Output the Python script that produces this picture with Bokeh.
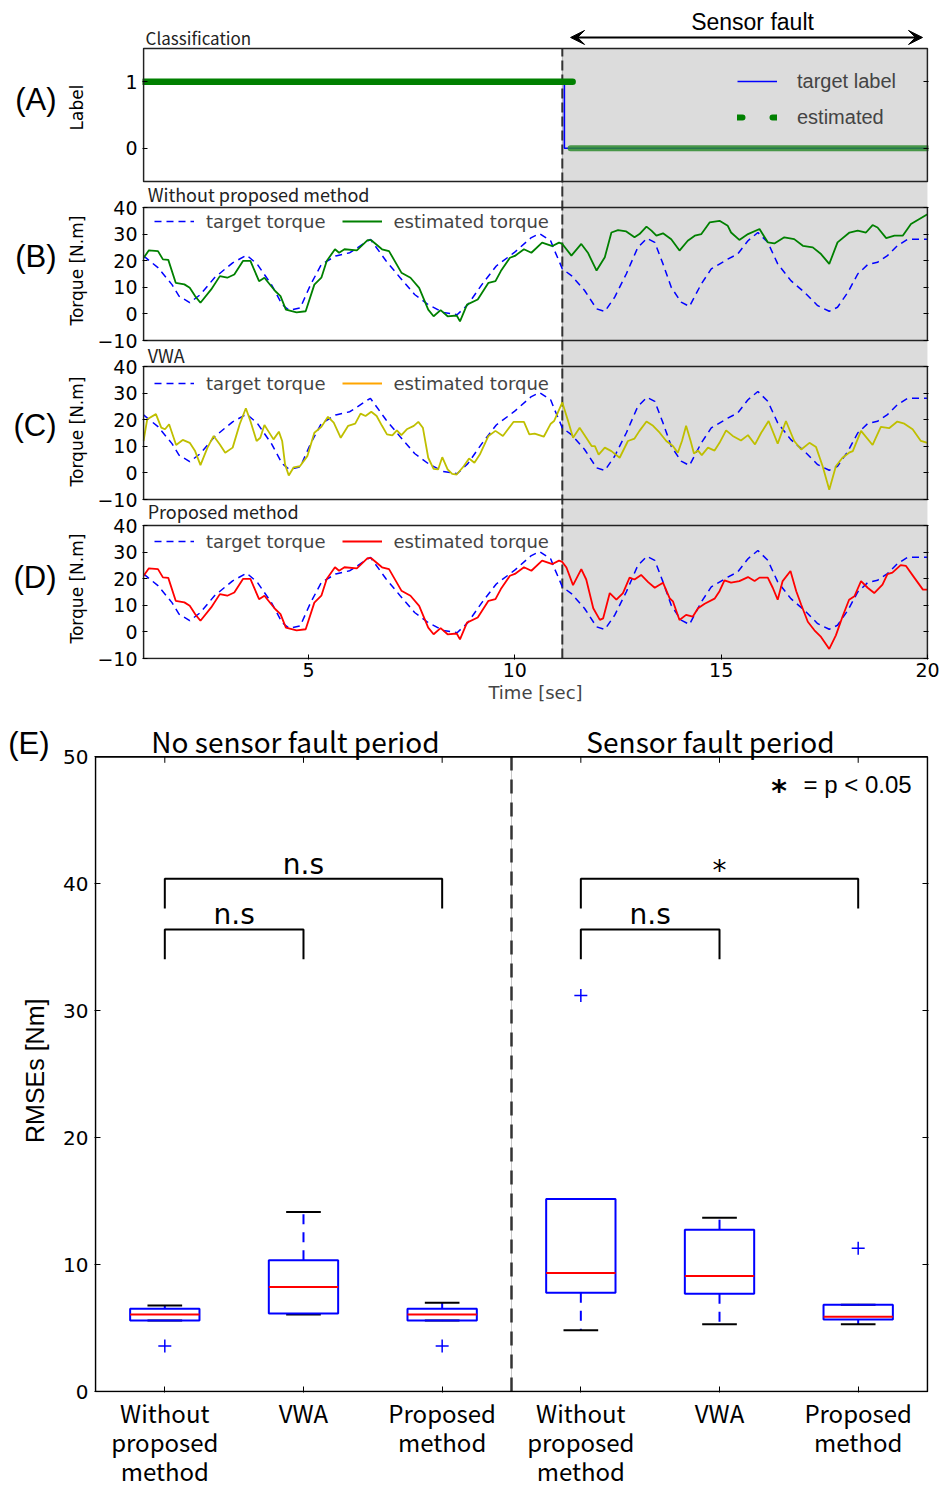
import numpy as np
from bokeh.plotting import figure
from bokeh.layouts import column, row
from bokeh.models import (Range1d, LinearAxis, FixedTicker, Legend, LegendItem,
                          Arrow, VeeHead)
from bokeh.core.properties import value
from bokeh.embed import file_html
from bokeh.resources import INLINE

# ---------------- data ----------------
t_start, t_end = 1.0, 20.0
fault_start = 11.15

# (A) classification
label_t = [1.0, 11.2, 11.2, 20.0]
label_target = [1, 1, 0, 0]
est_on_t = [1.0, 11.4]
est_on_v = [1, 1]
est_off_t = [11.35, 20.0]
est_off_v = [0, 0]

# target torque (same in B, C, D)
target_t = [1.0, 1.35, 1.69, 1.86, 2.12, 2.38, 2.72, 3.16, 3.5, 3.76, 4.1, 4.36, 4.53, 4.8,
            5.05, 5.31, 5.66, 6.0, 6.43, 6.5, 6.88, 7.22, 7.57, 7.9, 8.25, 8.6, 8.86, 9.2,
            9.55, 9.98, 10.4, 10.6, 10.87, 10.97, 11.07, 11.15, 11.37, 11.69, 11.98, 12.18,
            12.42, 12.7, 12.98, 13.2, 13.39, 13.59, 13.79, 14.03, 14.23, 14.52, 14.76, 15.16,
            15.4, 15.65, 15.89, 16.13, 16.37, 16.69, 17.02, 17.34, 17.62, 17.82, 18.07, 18.31,
            18.55, 18.79, 19.03, 19.27, 19.52, 20.0]
target_v = [21.8, 17.4, 11.0, 6.7, 4.2, 7.3, 13.6, 19.2, 22.1, 18.6, 11.0, 3.5, 1.3, 2.3,
            11.0, 18.6, 21.8, 23.0, 27.4, 28.0, 19.9, 13.6, 7.3, 3.5, 0.6, -0.3, 3.5, 11.0,
            18.0, 23.0, 28.7, 30.2, 27.4, 23.5, 19.9, 16.9, 14.4, 8.8, 1.9, 0.9,
            6.3, 15.0, 25.0, 28.4, 26.9, 18.8, 10.0, 4.4, 2.8, 11.3, 16.9, 20.6,
            22.5, 27.5, 30.6, 26.9, 18.8, 12.5, 8.1, 3.1, 1.0, 2.5, 8.1, 15.0,
            18.5, 19.4, 21.9, 25.6, 28.1, 28.1]

# estimated torque before the fault (identical for "without" and "proposed")
pre_t = [1.0, 1.13, 1.35, 1.47, 1.6, 1.78, 1.99, 2.12, 2.25, 2.38, 2.64, 2.85, 3.03, 3.2,
         3.41, 3.59, 3.8, 3.93, 4.19, 4.32, 4.45, 4.71, 4.93, 5.14, 5.31, 5.44, 5.64, 5.74,
         5.87, 6.17, 6.43, 6.52, 6.78, 6.95, 7.25, 7.47, 7.68, 7.9, 8.03, 8.2, 8.37, 8.59,
         8.67, 8.84, 9.1, 9.36, 9.53, 9.66, 9.88, 10.0, 10.22, 10.4, 10.66, 10.91, 11.07, 11.15]
pre_v = [21.0, 23.9, 23.6, 20.5, 20.3, 11.7, 11.1, 9.8, 6.7, 4.2, 9.2, 14.2, 13.6, 14.8,
         19.9, 19.9, 12.3, 13.6, 8.6, 6.7, 1.6, 0.6, 1.0, 11.0, 13.6, 19.9, 24.3, 23.0,
         24.3, 23.9, 27.7, 27.7, 24.3, 23.6, 15.5, 13.6, 9.8, 1.6, -0.9, 1.4, -0.9, -0.6,
         -2.8, 3.5, 5.4, 11.7, 12.3, 16.1, 21.1, 21.8, 24.3, 23.0, 26.8, 25.5, 26.8, 26.3]

# (B) without proposed method, after the fault
wo_post_t = [11.37, 11.61, 11.77, 11.98, 12.18, 12.34, 12.5, 12.7, 12.9, 13.02, 13.19, 13.31,
             13.43, 13.59, 13.79, 13.99, 14.19, 14.36, 14.52, 14.72, 14.96, 15.16, 15.24,
             15.44, 15.65, 15.93, 16.13, 16.29, 16.53, 16.77, 16.98, 17.22, 17.42, 17.62,
             17.82, 18.11, 18.31, 18.51, 18.67, 18.79, 19.0, 19.2, 19.4, 19.6, 20.0]
wo_post_v = [21.9, 26.3, 23.0, 16.3, 21.3, 30.6, 31.5, 31.0, 28.8, 30.0, 32.8, 31.3,
             29.4, 30.3, 28.1, 23.8, 27.5, 29.4, 30.0, 34.4, 35.0, 33.1, 30.6,
             27.8, 30.0, 31.9, 26.9, 26.5, 28.8, 28.1, 25.6, 25.0, 22.5, 18.8,
             26.9, 30.6, 31.3, 30.6, 33.4, 32.5, 28.5, 29.4, 29.4, 33.8, 37.5]

# (D) proposed method, after the fault
pr_post_t = [11.25, 11.41, 11.61, 11.73, 11.9, 12.06, 12.14, 12.3, 12.46, 12.62, 12.78, 12.9,
             13.06, 13.23, 13.39, 13.59, 13.75, 13.83, 13.99, 14.15, 14.31, 14.44, 14.6, 14.84,
             14.96, 15.08, 15.24, 15.44, 15.65, 15.81, 15.93, 16.13, 16.25, 16.37, 16.49, 16.68,
             16.82, 16.94, 17.1, 17.26, 17.42, 17.62, 17.78, 17.94, 18.1, 18.23, 18.39, 18.55,
             18.71, 18.91, 19.03, 19.15, 19.35, 19.48, 19.68, 19.89, 20.0]
pr_post_v = [24.2, 17.6, 23.6, 19.7, 8.9, 4.5, 5.1, 14.6, 12.1, 14.6, 20.4, 19.7,
             21.4, 18.7, 16.6, 18.5, 12.7, 11.5, 4.5, 6.4, 5.7, 8.9, 10.6, 12.5,
             15.3, 19.4, 18.5, 19.1, 20.6, 19.1, 20.4, 20.4, 16.6, 12.1, 19.1, 22.9,
             15.3, 10.2, 3.8, 0.6, -1.9, -6.4, -1.3, 5.7, 12.1, 13.4, 19.1, 16.6,
             14.6, 17.8, 21.7, 22.3, 25.1, 24.8, 20.4, 15.9, 15.9]

# (C) VWA estimated torque
vwa_t = [1.0, 1.09, 1.3, 1.43, 1.52, 1.62, 1.79, 1.95, 2.12, 2.25,
         2.38, 2.55, 2.7, 2.85, 2.98, 3.16, 3.33, 3.48, 3.59, 3.74,
         3.83, 3.93, 4.02, 4.15, 4.28, 4.36, 4.43, 4.52, 4.64, 4.79,
         4.97, 5.14, 5.31, 5.47, 5.61, 5.78, 5.96, 6.13, 6.26, 6.38,
         6.52, 6.65, 6.78, 6.9, 7.03, 7.14, 7.25, 7.38, 7.55, 7.66,
         7.77, 7.9, 8.03, 8.14, 8.24, 8.37, 8.48, 8.59, 8.76, 8.89,
         9.02, 9.15, 9.36, 9.53, 9.71, 9.97, 10.22, 10.35, 10.48, 10.7,
         10.87, 10.95, 11.15, 11.29, 11.41, 11.57, 11.73, 11.86, 11.94, 12.03,
         12.18, 12.34, 12.54, 12.74, 12.9, 13.02, 13.19, 13.35, 13.51, 13.67,
         13.83, 13.95, 14.05, 14.15, 14.26, 14.34, 14.44, 14.53, 14.68, 14.84,
         14.96, 15.12, 15.28, 15.48, 15.65, 15.82, 15.97, 16.15, 16.37, 16.57,
         16.77, 16.94, 17.14, 17.3, 17.46, 17.62, 17.78, 17.94, 18.1, 18.19,
         18.39, 18.67, 18.87, 19.07, 19.27, 19.44, 19.64, 19.84, 20.0]
vwa_v = [12.0, 20.2, 22.1, 17.0, 16.4, 18.3, 10.5, 12.4, 11.3, 8.2,
         2.9, 9.5, 13.9, 10.7, 7.6, 9.5, 18.3, 24.3, 19.5, 12.0,
         13.2, 18.0, 15.8, 12.6, 15.5, 12.0, 3.2, -1.0, 2.1, 2.5,
         6.3, 15.1, 17.3, 21.1, 18.9, 13.2, 17.7, 18.5, 22.3, 21.4,
         23.0, 21.4, 17.7, 14.5, 14.1, 16.0, 14.2, 16.4, 17.7, 19.2,
         17.0, 5.7, 1.5, 1.3, 5.9, 1.3, -0.4, -0.6, 2.5, 5.4,
         3.8, 6.9, 13.9, 15.8, 13.9, 19.2, 19.2, 14.5, 14.8, 13.6,
         18.5, 19.5, 26.5, 19.5, 13.2, 17.0, 13.2, 10.1, 10.1, 6.9,
         9.5, 8.2, 5.7, 12.0, 12.9, 15.8, 19.3, 17.7, 15.1, 12.0,
         10.1, 7.6, 12.0, 17.7, 12.0, 7.3, 8.4, 6.7, 9.5, 8.4,
         11.3, 16.0, 13.9, 12.2, 14.2, 10.7, 15.1, 19.5, 11.0, 19.5,
         12.0, 8.8, 11.3, 9.7, 2.5, -6.3, 2.5, 5.7, 7.6, 8.2,
         15.8, 10.5, 17.3, 16.8, 19.3, 18.5, 16.4, 12.0, 11.3]

without_t = pre_t + wo_post_t
without_v = pre_v + wo_post_v
proposed_t = pre_t + pr_post_t
proposed_v = pre_v + pr_post_v

# y ticks of panels A-D
panel_ticks = {"A": [0, 1], "B": [-10, 0, 10, 20, 30, 40],
               "C": [-10, 0, 10, 20, 30, 40], "D": [-10, 0, 10, 20, 30, 40]}
x_ticks = [5, 10, 15, 20]

# (E) RMSE box plots
box_pos = [1, 2, 3, 4, 5, 6]
box_labels = ["Without\nproposed\nmethod", "VWA", "Proposed\nmethod",
              "Without\nproposed\nmethod", "VWA", "Proposed\nmethod"]
box_q1 = [5.6, 6.14, 5.6, 7.78, 7.7, 5.68]
box_med = [6.07, 8.24, 6.07, 9.33, 9.1, 5.9]
box_q3 = [6.53, 10.34, 6.53, 15.16, 12.75, 6.84]
whisk_lo = [5.6, 6.07, 5.6, 4.82, 5.29, 5.29]
whisk_hi = [6.77, 14.15, 7.0, 15.16, 13.7, 6.84]
outlier_x = [1, 3, 4, 6]
outlier_y = [3.58, 3.58, 31.2, 11.28]
e_ticks = [0, 10, 20, 30, 40, 50]
br_left = [1, 1, 4, 4]
br_right = [3, 2, 6, 5]
br_top = [40.4, 36.4, 40.4, 36.4]
br_text = ["n.s", "n.s", "*", "n.s"]
br_text_y = [41.5, 37.55, 41.05, 37.55]
br_drop = 2.35

# ---------------- layout geometry / styling ----------------
W = 946
TICK_FONT = "DejaVu Sans"
CJK = "Noto Sans CJK JP"
HELV = "Liberation Sans"
GRAY = "#dcdcdc"
NAN2 = [np.nan, np.nan]

FRAME_H = 659          # frame height of the top (A-D) figure
PANELS = {             # pixel box of each panel inside that frame, and its value span
    "A": dict(top=48, bot=181, vmin=-0.5, vmax=1.5),
    "B": dict(top=207, bot=340, vmin=-10, vmax=40),
    "C": dict(top=366, bot=499, vmin=-10, vmax=40),
    "D": dict(top=525, bot=658, vmin=-10, vmax=40),
}


def pscale(k):
    g = PANELS[k]
    return (g["bot"] - g["top"]) / (g["vmax"] - g["vmin"])


def prange(k):
    g = PANELS[k]
    s = pscale(k)
    return Range1d(g["vmin"] - (FRAME_H - g["bot"]) / s, g["vmax"] + g["top"] / s)


def ypx(k, v):
    g = PANELS[k]
    return round(FRAME_H - (g["top"] + (g["vmax"] - v) * pscale(k)), 3)


def mk_axis(ticks, font=TICK_FONT, size="19px", tick_len=5, standoff=5, overrides=None):
    ax = LinearAxis(ticker=FixedTicker(ticks=ticks), axis_line_color=None,
                    major_tick_in=tick_len, major_tick_out=0, minor_tick_line_color=None,
                    major_tick_line_color="black", major_tick_line_width=1,
                    major_label_standoff=standoff,
                    major_label_text_font=font, major_label_text_font_size=size,
                    major_label_text_color="black")
    if overrides:
        ax.major_label_overrides = overrides
    return ax


def tick_axis(ticks, tick_len=5):
    return LinearAxis(ticker=FixedTicker(ticks=ticks), axis_line_color=None,
                      major_tick_in=tick_len, major_tick_out=0, minor_tick_line_color=None,
                      major_tick_line_color="black", major_tick_line_width=1,
                      major_label_standoff=0, major_label_text_font_size="0px",
                      major_label_text_color=None)


def label_axis(ticks, texts, font, size, standoff, vertical=False):
    ax = LinearAxis(ticker=FixedTicker(ticks=ticks), axis_line_color=None,
                    major_tick_line_color=None, minor_tick_line_color=None,
                    major_tick_in=0, major_tick_out=0,
                    major_label_overrides=dict(zip(ticks, texts)),
                    major_label_standoff=standoff,
                    major_label_text_font=font, major_label_text_font_size=size,
                    major_label_text_color="black")
    if vertical:
        ax.major_label_orientation = "vertical"
    return ax


def fmt(v):
    return "\u2212" + str(-v) if v < 0 else str(v)


# ---------------- top figure: panels A-D ----------------
pT = figure(width=W, height=711, x_range=Range1d(0.975, 20.025), y_range=Range1d(0, FRAME_H),
            x_axis_location=None, y_axis_location=None, output_backend="svg",
            toolbar_location=None, min_border_left=142, min_border_right=18,
            min_border_top=0, min_border_bottom=52)
pT.extra_y_ranges = {k: prange(k) for k in PANELS}
pT.grid.visible = False
pT.outline_line_color = None
pT.background_fill_color = "white"
pT.border_fill_color = "white"

# fault shading and line across all four panels
g_bot, g_top = ypx("D", -10), ypx("A", 1.5)
pT.quad(left=[fault_start], right=[t_end], bottom=[g_bot], top=[g_top],
        fill_color=GRAY, line_color=None)
pT.segment(x0=[fault_start], y0=[g_bot], x1=[fault_start], y1=[g_top],
           line_color="#b0b0b0", line_width=1)
pT.segment(x0=[fault_start], y0=[g_bot], x1=[fault_start], y1=[g_top],
           line_color="#333333", line_width=2, line_dash="10 4")

# axes
tick_pos, tick_lab = [], {}
for k in PANELS:
    for v in panel_ticks[k]:
        pos = ypx(k, v)
        tick_pos.append(pos)
        tick_lab[pos] = fmt(v)
pT.add_layout(mk_axis(tick_pos, overrides=tick_lab), "left")
pT.add_layout(label_axis([ypx("A", 0.613), ypx("B", 16.3), ypx("C", 15.56), ypx("D", 16.3)],
                         ["Label", "Torque [N.m]", "Torque [N.m]", "Torque [N.m]"],
                         TICK_FONT, "17px", 7, vertical=True), "left")
pT.add_layout(label_axis([ypx("A", 0.733), ypx("B", 21.58), ypx("C", 17.82), ypx("D", 20.45)],
                         ["(A)", "(B)", "(C)", "(D)"], HELV, "31px", 8), "left")
pT.add_layout(tick_axis(tick_pos), "right")
xa = mk_axis(x_ticks, standoff=3)
xa.axis_label = "Time [sec]"
xa.axis_label_text_font = TICK_FONT
xa.axis_label_text_font_size = "18px"
xa.axis_label_text_font_style = "normal"
xa.axis_label_standoff = 2
pT.add_layout(xa, "below")

# panel A
rA_t = pT.line(label_t, label_target, color="blue", line_width=1.6, y_range_name="A")
pT.line(est_off_t, est_off_v, color="#2e8b2e", line_width=6, line_cap="round", alpha=0.85,
        y_range_name="A")
pT.line(est_on_t, est_on_v, color="#008000", line_width=6.5, line_cap="round",
        y_range_name="A")
rA_dots = pT.line(x=NAN2, y=NAN2, color="#008000", line_width=6, line_dash="5 30",
                  line_cap="round", y_range_name="A")
pT.add_layout(Legend(items=[LegendItem(label="target label", renderers=[rA_t]),
                            LegendItem(label="estimated", renderers=[rA_dots])],
                     orientation="vertical", location=(595, 530),
                     background_fill_alpha=0, border_line_color=None,
                     label_text_font=HELV, label_text_font_size="20px",
                     glyph_width=40, glyph_height=24, label_height=24, label_standoff=20,
                     spacing=12, padding=0, margin=0))
pT.text(x=[1.05], y=[1.658], text=["Classification"], text_font=value(CJK),
        text_font_size="17px", text_baseline="middle", text_color="#222222", y_range_name="A")
pT.text(x=[15.76], y=[1.891], text=["Sensor fault"], text_font=value(HELV),
        text_font_size="23px", text_align="center", text_baseline="middle", y_range_name="A")
pT.add_layout(Arrow(x_start=11.35, y_start=1.666, x_end=19.88, y_end=1.666, line_width=2,
                    y_range_name="A",
                    start=VeeHead(size=14, fill_color="black", line_color="black"),
                    end=VeeHead(size=14, fill_color="black", line_color="black")))

# panels B-D
specs = [("B", "Without proposed method", 45.19, without_t, without_v, "#008000", None, 427),
         ("C", "VWA", 44.44, vwa_t, vwa_v, "#bfbf00", "#ffa500", 265),
         ("D", "Proposed method", 45.56, proposed_t, proposed_v, "#ff0000", None, 107)]
for k, title, title_y, est_t, est_v, color, legend_color, legend_y in specs:
    rt = pT.line(target_t, target_v, color="blue", line_width=1.5, line_dash="7 5",
                 y_range_name=k)
    re = pT.line(est_t, est_v, color=color, line_width=1.8, y_range_name=k)
    rl = re if legend_color is None else pT.line(x=NAN2, y=NAN2, color=legend_color,
                                                 line_width=2, y_range_name=k)
    pT.add_layout(Legend(items=[LegendItem(label="target torque", renderers=[rt]),
                                LegendItem(label="estimated torque", renderers=[rl])],
                         orientation="horizontal", location=(12, legend_y),
                         background_fill_alpha=0, border_line_color=None,
                         label_text_font=TICK_FONT, label_text_font_size="18px",
                         glyph_width=40, glyph_height=22, label_height=22, label_standoff=12,
                         spacing=16, padding=0, margin=0))
    pT.text(x=[1.1], y=[title_y], text=[title], text_font=value(CJK), text_font_size="18px",
            text_baseline="middle", text_color="#222222", y_range_name=k)

# panel frames
for k, g in PANELS.items():
    pT.quad(left=[t_start], right=[t_end], bottom=[g["vmin"]], top=[g["vmax"]],
            fill_alpha=0, line_color="#222222", line_width=1.6, y_range_name=k)

# ---------------- panel E ----------------
E_SCALE = 643 / 50
pE = figure(width=W, height=779, x_range=Range1d(0.493, 6.507),
            y_range=Range1d(-1 / E_SCALE, 50 + 46 / E_SCALE),
            x_axis_location=None, y_axis_location=None, output_backend="svg",
            toolbar_location=None, min_border_left=94, min_border_right=18,
            min_border_top=0, min_border_bottom=89)
pE.grid.visible = False
pE.outline_line_color = None
pE.background_fill_color = "white"
pE.border_fill_color = "white"

pE.add_layout(mk_axis(e_ticks, size="20px", tick_len=6, standoff=6), "left")
pE.add_layout(label_axis([25.27], ["RMSEs [Nm]"], HELV, "25px", 11, vertical=True), "left")
pE.add_layout(label_axis([51.09], ["(E)"], HELV, "31px", -31), "left")
pE.add_layout(tick_axis(e_ticks[1:-1], tick_len=6), "right")
bx = mk_axis(box_pos, font=CJK, size="24px", tick_len=6, standoff=2,
             overrides={k: v for k, v in zip(box_pos, box_labels)})
bx.major_label_text_line_height = 0.83
pE.add_layout(bx, "below")

bp = np.array(box_pos, dtype=float)
# top tick marks on the box's top edge
pE.segment(x0=bp, y0=[50] * 6, x1=bp, y1=[50 - 6 / E_SCALE] * 6, line_color="black",
           line_width=1)
# divider between the two periods
pE.segment(x0=[3.5], y0=[0], x1=[3.5], y1=[50], line_color="#c8c8c8", line_width=1)
pE.segment(x0=[3.5], y0=[0], x1=[3.5], y1=[50], line_color="#333333", line_width=2.5,
           line_dash="14 9")

pE.segment(x0=bp, y0=box_q3, x1=bp, y1=whisk_hi, line_color="blue", line_width=2,
           line_dash="10 8")
pE.segment(x0=bp, y0=box_q1, x1=bp, y1=whisk_lo, line_color="blue", line_width=2,
           line_dash="10 8")
pE.segment(x0=bp - 0.125, y0=whisk_hi, x1=bp + 0.125, y1=whisk_hi, line_color="black",
           line_width=2)
pE.segment(x0=bp - 0.125, y0=whisk_lo, x1=bp + 0.125, y1=whisk_lo, line_color="black",
           line_width=2)
pE.quad(left=bp - 0.25, right=bp + 0.25, bottom=box_q1, top=box_q3, fill_alpha=0,
        line_color="blue", line_width=2)
pE.segment(x0=bp - 0.25, y0=box_med, x1=bp + 0.25, y1=box_med, line_color="red",
           line_width=2)
pE.scatter(outlier_x, outlier_y, marker="cross", size=13, line_color="blue", line_width=1.5)

bl = np.array(br_left, dtype=float)
brr = np.array(br_right, dtype=float)
bt = np.array(br_top, dtype=float)
pE.multi_line(xs=[[a, a, b, b] for a, b in zip(bl, brr)],
              ys=[[t - br_drop, t, t, t - br_drop] for t in bt],
              line_color="black", line_width=2)
pE.text(x=(bl + brr) / 2, y=br_text_y, text=br_text, text_font=value(TICK_FONT),
        text_font_size="28px", text_align="center", text_baseline="middle")
pE.text(x=[5.43], y=[47.36], text=["*"], text_font=value(TICK_FONT), text_font_size="30px",
        text_align="center", text_baseline="middle", text_font_style="bold")
pE.text(x=[5.606], y=[47.8], text=["= p < 0.05"], text_font=value(HELV),
        text_font_size="24px", text_align="left", text_baseline="middle")
pE.text(x=[1.942, 4.935], y=[51.29, 51.29],
        text=["No sensor fault period", "Sensor fault period"],
        text_font=value(CJK), text_font_size="28px", text_align="center",
        text_baseline="middle")

# box outline
pE.quad(left=[0.5], right=[6.5], bottom=[0], top=[50], fill_alpha=0, line_color="black",
        line_width=1.6)

layout = column(row(pT), row(pE), spacing=0)
open("out.html", "w").write(file_html(layout, INLINE))
